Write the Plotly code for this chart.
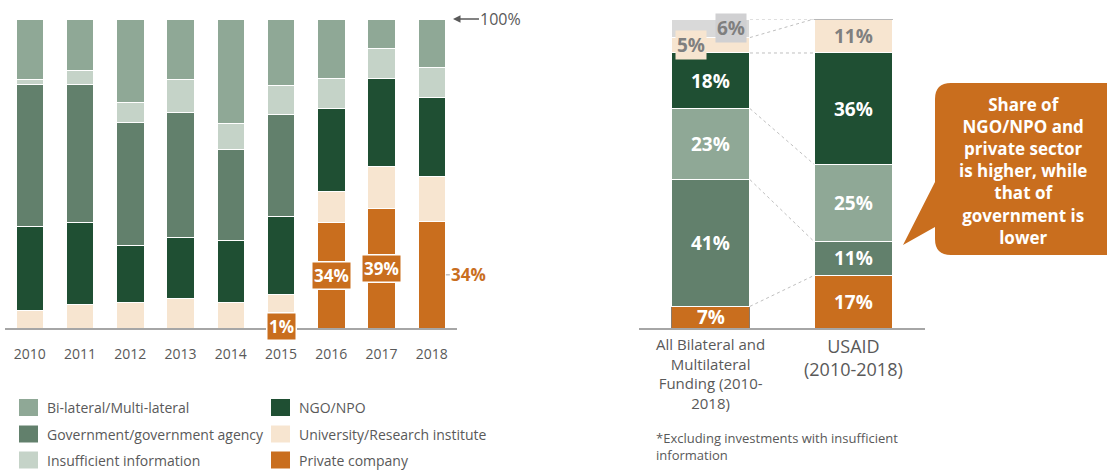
import plotly.graph_objects as go

W, H = 1107, 471
FONT = "Open Sans"

# ---------------- data: left chart (share of funding by recipient type, %) ----------------
years = ['2010', '2011', '2012', '2013', '2014', '2015', '2016', '2017', '2018']
private_co = [0, 0, 0, 0, 0, 1, 34, 38.8, 34.4]
university = [5.7, 7.7, 8.1, 9.6, 8.2, 9.7, 10.3, 13.6, 14.6]
ngo_npo = [27.3, 26.5, 18.7, 19.7, 20.2, 25.3, 26.7, 28.3, 25.5]
government = [45.8, 44.6, 39.8, 40.3, 29.5, 33.0, 0, 0, 0]
insufficient = [1.6, 4.5, 6.4, 10.7, 8.3, 9.4, 9.9, 9.7, 9.7]
bilateral = [19.6, 16.7, 27.0, 19.7, 33.8, 21.6, 19.1, 9.6, 15.8]

# ---------------- data: right chart ----------------
compare_labels = ['All Bilateral and<br>Multilateral<br>Funding (2010-<br>2018)', 'USAID<br>(2010-2018)']
cmp_private = [7, 17]
cmp_government = [41, 11]
cmp_bilateral = [23, 25]
cmp_ngo = [18, 36]
cmp_university = [5, 11]
cmp_insufficient = [6, 0]

series_names = {
    'bilateral': 'Bi-lateral/Multi-lateral',
    'government': 'Government/government agency',
    'insufficient': 'Insufficient information',
    'ngo': 'NGO/NPO',
    'university': 'University/Research institute',
    'private': 'Private company',
}
legend_col1 = ['bilateral', 'government', 'insufficient']
legend_col2 = ['ngo', 'university', 'private']

callout_text = 'Share of<br>NGO/NPO and<br>private sector<br>is higher, while<br>that of<br>government is<br>lower'
footnote_text = '*Excluding investments with insufficient<br>information'

# ---------------- styles ----------------
colors = {
    'bilateral': '#8FA896',
    'government': '#62806C',
    'insufficient': '#C5D3C8',
    'ngo': '#1F4F33',
    'university': '#F7E5D0',
    'private': '#C96E1E',
}
insuff_right_color = '#D9D9D9'
TXT = '#595959'
LABEL_GRAY = '#7F7F7F'


def px(x):
    return x / W


def py(y):
    return 1 - y / H


fig = go.Figure()

# left chart, stacked bottom -> top
left_stack = [('private', private_co), ('university', university), ('ngo', ngo_npo),
              ('government', government), ('insufficient', insufficient), ('bilateral', bilateral)]
for key, vals in left_stack:
    fig.add_trace(go.Bar(
        x=years, y=vals, name=series_names[key], xaxis='x', yaxis='y',
        marker=dict(color=colors[key], line=dict(color='white', width=1)),
        showlegend=False, hoverinfo='skip'))

# right chart
BW = 0.552
right_stack = [('private', cmp_private), ('government', cmp_government), ('bilateral', cmp_bilateral),
               ('ngo', cmp_ngo), ('university', cmp_university), ('insufficient', cmp_insufficient)]
for key, vals in right_stack:
    col = insuff_right_color if key == 'insufficient' else colors[key]
    if key == 'private':
        line = dict(color=['#8C7A6A', 'white'], width=1)
    else:
        line = dict(color='white', width=1)
    fig.add_trace(go.Bar(
        x=[0, 1], y=vals, width=BW, name=series_names[key], xaxis='x2', yaxis='y2',
        marker=dict(color=col, line=line), showlegend=False, hoverinfo='skip'))

annotations = []
shapes = []

# left chart private-company labels (category axis -> serial index positions)
for i, yr in enumerate(years):
    v = private_co[i]
    if v <= 0:
        continue
    txt = f"{round(v)}%"
    if i == len(years) - 1:
        annotations.append(dict(
            x=i, y=v / 2, xref='x', yref='y', text=txt, showarrow=True,
            ax=37, ay=0, arrowhead=0, arrowwidth=1, arrowcolor='#A6A6A6', standoff=14,
            xanchor='center', yanchor='middle',
            font=dict(family=FONT, size=17, color=colors['private'], weight=700)))
    else:
        annotations.append(dict(
            x=i, y=v / 2, xref='x', yref='y', text=txt, showarrow=False,
            xanchor='center', yanchor='middle',
            bgcolor=colors['private'], bordercolor='white', borderwidth=1.5, borderpad=1.5,
            font=dict(family=FONT, size=17, color='white', weight=700)))

# 100% marker
annotations.append(dict(
    x=8.42, y=100, xref='x', yref='y', text='100%', showarrow=True, ax=48, ay=0,
    arrowhead=2, arrowsize=1, arrowwidth=1.5, arrowcolor=TXT,
    font=dict(family=FONT, size=16, color=TXT)))

# right chart segment labels
for bar_i in range(2):
    base = 0
    for key, vals in right_stack:
        v = vals[bar_i]
        if v > 0:
            light = key in ('university', 'insufficient')
            a = dict(x=bar_i, y=base + v / 2, xref='x2', yref='y2', text=f"{v}%",
                     showarrow=False, xanchor='center', yanchor='middle',
                     font=dict(family=FONT, size=19, color=LABEL_GRAY if light else 'white', weight=700))
            if light and bar_i == 0:
                a['bgcolor'] = '#D0D0D2' if key == 'insufficient' else colors[key]
                a['xshift'] = 20 if key == 'insufficient' else -20
                a['borderpad'] = 1
            annotations.append(a)
        base += v

# connector lines between the two comparison bars
cum_l, cum_r = 0, 0
for key, vals in right_stack:
    cum_l += vals[0]
    cum_r += vals[1]
    shapes.append(dict(type='line', xref='x2', yref='y2', x0=BW / 2, x1=1 - BW / 2,
                       y0=cum_l, y1=cum_r, line=dict(color='#BFBFBF', width=1, dash='dot')))
# thin top edge on USAID bar
shapes.append(dict(type='line', xref='x2', yref='y2', x0=1 - BW / 2, x1=1 + BW / 2,
                   y0=cum_r, y1=cum_r, line=dict(color='#A0A0A0', width=1.5)))

# right chart category labels
label_sizes = [15, 18]
for i, lab in enumerate(compare_labels):
    annotations.append(dict(x=i, y=py(332), xref='x2', yref='paper', text=lab, showarrow=False,
                            xanchor='center', yanchor='top', align='center',
                            font=dict(family=FONT, size=label_sizes[i], color=TXT)))

# footnote
annotations.append(dict(x=px(654), y=py(427), xref='paper', yref='paper', text=footnote_text,
                        showarrow=False, xanchor='left', yanchor='top', align='left',
                        font=dict(family=FONT, size=13, color=TXT)))

# legend (custom, two columns)
row_y = [407.5, 434, 460]
for col_keys, sx in ((legend_col1, 19), (legend_col2, 271)):
    for r, key in enumerate(col_keys):
        shapes.append(dict(type='rect', xref='paper', yref='paper',
                           x0=px(sx), x1=px(sx + 19), y0=py(row_y[r] + 8.5), y1=py(row_y[r] - 8.5),
                           fillcolor=colors[key], line=dict(width=0)))
        annotations.append(dict(x=px(sx + 26), y=py(row_y[r]), xref='paper', yref='paper',
                                text=series_names[key], showarrow=False, xanchor='left', yanchor='middle',
                                font=dict(family=FONT, size=14, color=TXT)))

# callout bubble
L, T, B, R, rr = 935, 83, 255, 1125, 16
path = (f"M {px(L + rr)},{py(T)} L {px(R)},{py(T)} L {px(R)},{py(B)} L {px(L + rr)},{py(B)} "
        f"Q {px(L)},{py(B)} {px(L)},{py(B - rr)} L {px(L)},{py(227)} L {px(903)},{py(245)} "
        f"L {px(L)},{py(182)} L {px(L)},{py(T + rr)} Q {px(L)},{py(T)} {px(L + rr)},{py(T)} Z")
shapes.append(dict(type='path', xref='paper', yref='paper', path=path,
                   fillcolor=colors['private'], line=dict(width=0), layer='above'))
annotations.append(dict(x=px(1023), y=py(170.5), xref='paper', yref='paper', text=callout_text,
                        showarrow=False, align='center', xanchor='center', yanchor='middle',
                        font=dict(family=FONT, size=17, color='white', weight=700)))

ydom = [py(328), py(19)]
fig.update_layout(
    template='none',
    width=W, height=H, margin=dict(l=0, r=0, t=0, b=0, autoexpand=False),
    paper_bgcolor='white', plot_bgcolor='white',
    barmode='stack', bargap=0.453,
    font=dict(family=FONT, color=TXT),
    xaxis=dict(type='category', domain=[px(4.7), px(457)], range=[-0.5, 8.5], showline=True,
               linecolor='#A6A6A6', linewidth=1.5, automargin=False,
               showgrid=False, zeroline=False, ticks='', tickfont=dict(family=FONT, size=14, color=TXT),
               ticklabelstandoff=12, fixedrange=True),
    yaxis=dict(domain=ydom, range=[0, 100], visible=False, fixedrange=True, automargin=False),
    xaxis2=dict(domain=[px(639), px(925)], range=[-0.5, 1.5], showline=True, linecolor='#A6A6A6',
                linewidth=1.5, showgrid=False, zeroline=False, showticklabels=False, ticks='',
                fixedrange=True, automargin=False),
    yaxis2=dict(domain=ydom, range=[0, 100], visible=False, anchor='x2', fixedrange=True,
                automargin=False),
    annotations=annotations, shapes=shapes,
)

fig.write_html("out.html", config={'displayModeBar': False},
               post_script="document.body.style.margin='0';")
